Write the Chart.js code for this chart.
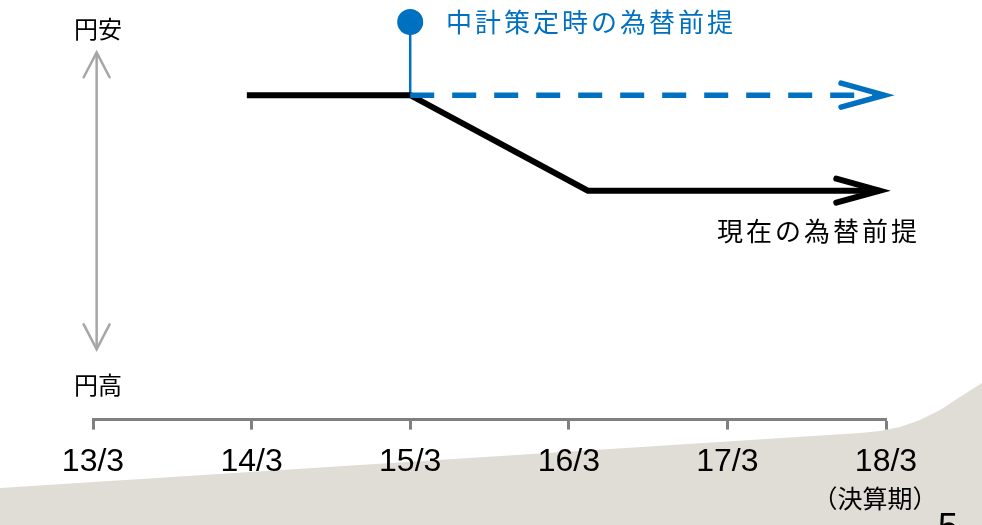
<!DOCTYPE html>
<html lang="ja">
<head>
<meta charset="utf-8">
<title>為替前提</title>
<script src="https://cdn.jsdelivr.net/npm/chart.js@4/dist/chart.umd.min.js"></script>
<style>
  html, body { margin: 0; padding: 0; background: #fff; }
  #wrap { width: 982px; height: 525px; }
</style>
</head>
<body>
<div id="wrap"><canvas id="fxChart" width="982" height="525"></canvas></div>
<script>
// fiscal year-end ticks (x = 0..5)
const tickLabels = ['13/3', '14/3', '15/3', '16/3', '17/3', '18/3'];

// current FX assumption: flat, then yen strengthening, then flat
const currentX = [0.97, 2, 3.12, 4.96];
const currentY = [79.8, 79.8, 56.3, 56.3];

// assumption at mid-term plan formulation
const planX = [2, 4.99];
const planY = [79.8, 79.8];

// marker pin for the plan label
const markerX = [2, 2];
const markerY = [79.8, 97.8];

// yen weak / yen strong guide arrow
const guideX = [0.023, 0.023];
const guideY = [17.3, 90.3];

const BLUE = '#0070c0';
const GREY = '#a6a6a6';
const AXIS = '#808080';
const CJK = '"Noto Sans CJK JP", "Noto Sans", sans-serif';
const LATIN = '"Liberation Sans", Arial, sans-serif';

function toPoints(xs, ys) {
    return xs.map((x, i) => ({ x: x, y: ys[i] }));
}

// beige page decoration behind the chart
const backdrop = {
    id: 'backdrop',
    beforeDraw(chart) {
        const ctx = chart.ctx;
        ctx.save();
        ctx.fillStyle = '#fff';
        ctx.fillRect(0, 0, chart.width, chart.height);
        ctx.fillStyle = '#e0ddd7';
        ctx.beginPath();
        ctx.moveTo(0, 488);
        ctx.lineTo(860, 433);
        ctx.lineTo(880, 431);
        ctx.lineTo(900, 427);
        ctx.lineTo(920, 420);
        ctx.lineTo(940, 410);
        ctx.lineTo(960, 397);
        ctx.lineTo(982, 383);
        ctx.lineTo(982, 525);
        ctx.lineTo(0, 525);
        ctx.closePath();
        ctx.fill();
        ctx.restore();
    }
};

function drawHead(ctx, tip, from, len, spread) {
    const ang = Math.atan2(tip.y - from.y, tip.x - from.x);
    ctx.beginPath();
    ctx.moveTo(tip.x - len * Math.cos(ang - spread), tip.y - len * Math.sin(ang - spread));
    ctx.lineTo(tip.x, tip.y);
    ctx.lineTo(tip.x - len * Math.cos(ang + spread), tip.y - len * Math.sin(ang + spread));
    ctx.stroke();
}

// open arrowheads on line ends + free text
const arrowsAndText = {
    id: 'arrowsAndText',
    afterDatasetsDraw(chart) {
        const ctx = chart.ctx;
        chart.data.datasets.forEach((ds, i) => {
            if (!ds.arrowHead) return;
            const pts = chart.getDatasetMeta(i).data;
            const h = ds.arrowHead;
            ctx.save();
            ctx.strokeStyle = ds.borderColor;
            ctx.lineWidth = ds.borderWidth;
            ctx.lineCap = 'round';
            ctx.lineJoin = 'miter';
            ctx.setLineDash([]);
            const n = pts.length;
            if (h.end) drawHead(ctx, pts[n - 1], pts[n - 2], h.len, h.spread);
            if (h.start) drawHead(ctx, pts[0], pts[1], h.len, h.spread);
            ctx.restore();
        });

        ctx.save();
        ctx.textBaseline = 'middle';
        ctx.fillStyle = '#000';
        ctx.font = '24px ' + CJK;
        ctx.textAlign = 'center';
        ctx.fillText('円安', 98, 29);
        ctx.fillText('円高', 98, 385);

        ctx.textAlign = 'left';
        ctx.font = '26px ' + CJK;
        ctx.letterSpacing = '3px';
        ctx.fillStyle = BLUE;
        ctx.fillText('中計策定時の為替前提', 446, 22);
        ctx.fillStyle = '#000';
        ctx.fillText('現在の為替前提', 717, 231);

        ctx.letterSpacing = '0px';
        ctx.textAlign = 'center';
        ctx.font = '25px ' + CJK;
        ctx.fillText('（決算期）', 875, 498);

        ctx.textAlign = 'left';
        ctx.textBaseline = 'alphabetic';
        ctx.font = '36px ' + LATIN;
        ctx.fillText('5', 938, 539);
        ctx.restore();
    }
};

const ctx = document.getElementById('fxChart').getContext('2d');
const fxChart = new Chart(ctx, {
    type: 'line',
    data: {
        datasets: [{
            label: '円安・円高',
            data: toPoints(guideX, guideY),
            borderColor: GREY,
            borderWidth: 2.5,
            pointRadius: 0,
            arrowHead: { start: true, end: true, len: 28, spread: 0.48 }
        }, {
            label: '中計策定時の為替前提',
            data: toPoints(planX, planY),
            borderColor: BLUE,
            borderWidth: 5.5,
            borderDash: [24, 18],
            pointRadius: 0,
            arrowHead: { end: true, len: 45, spread: 0.27 }
        }, {
            label: '現在の為替前提',
            data: toPoints(currentX, currentY),
            borderColor: '#000',
            borderWidth: 6,
            borderJoinStyle: 'miter',
            pointRadius: 0,
            arrowHead: { end: true, len: 45, spread: 0.27 }
        }, {
            label: 'marker',
            data: toPoints(markerX, markerY),
            borderColor: BLUE,
            borderWidth: 2.5,
            pointRadius: [0, 13],
            pointBackgroundColor: BLUE,
            pointBorderWidth: 0
        }]
    },
    options: {
        responsive: false,
        animation: false,
        events: [],
        clip: false,
        layout: {
            padding: { left: 93, right: 96, top: 0, bottom: 31 }
        },
        scales: {
            x: {
                type: 'linear',
                min: 0,
                max: 5,
                grid: {
                    drawOnChartArea: false,
                    drawTicks: true,
                    tickLength: 10,
                    tickWidth: 3,
                    tickColor: AXIS
                },
                border: { display: true, color: AXIS, width: 3 },
                ticks: {
                    stepSize: 1,
                    padding: 13,
                    color: '#000',
                    font: { family: LATIN, size: 32 },
                    maxRotation: 0,
                    callback: (v) => tickLabels[v]
                }
            },
            y: {
                display: false,
                min: 0,
                max: 100
            }
        },
        plugins: {
            legend: { display: false },
            tooltip: { enabled: false }
        }
    },
    plugins: [backdrop, arrowsAndText]
});
</script>
</body>
</html>
